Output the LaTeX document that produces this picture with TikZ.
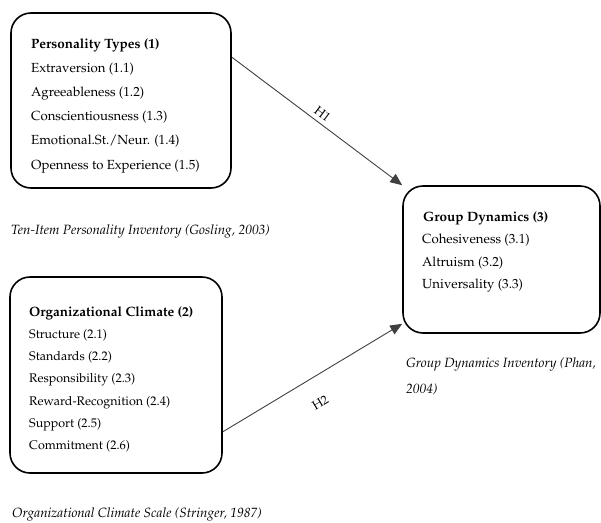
\documentclass[tikz,border=0pt]{standalone}
\usepackage[T1]{fontenc}
\usepackage{mathpazo}
\usetikzlibrary{arrows.meta,calc}
\tikzset{
  box/.style={draw=black, line width=1.6pt, rounded corners=20pt, inner sep=0pt},
  item/.style={anchor=base west, inner sep=0pt, font=\fontsize{13.2}{15}\selectfont},
  itemsm/.style={anchor=base west, inner sep=0pt, font=\fontsize{12.5}{15}\selectfont},
  itemb/.style={anchor=base west, inner sep=0pt, font=\fontsize{13.5}{15}\selectfont\bfseries},
  captext/.style={anchor=base west, inner sep=0pt, font=\fontsize{13.4}{15}\selectfont\itshape},
  arr/.style={draw=black!75, line width=0.9pt, -{Triangle[length=12pt,width=10pt]}},
  hlab/.style={font=\fontsize{12.5}{14}\selectfont, sloped, inner sep=1.5pt}
}
\begin{document}
\begin{tikzpicture}[x=1pt,y=-1pt]
\useasboundingbox (0,0) rectangle (601,522);
% boxes
\node[box, minimum width=220pt, minimum height=175pt] (box1) at (121,100.5) {};
\node[box, minimum width=212pt, minimum height=196pt] (box2) at (116,375) {};
\node[box, minimum width=197pt, minimum height=147pt] (box3) at (501.5,259.5) {};
% box 1 text
\node[itemb] (t1) at (31,48) {Personality Types (1)};
\foreach \t [count=\i] in {Extraversion (1.1), Agreeableness (1.2), Conscientiousness (1.3), Emotional.St./Neur. (1.4), Openness to Experience (1.5)}
  \node[item] (t1l\i) at (31,{48+24.2*\i}) {\t};
% box 2 text
\node[itemb] (t2) at (29,316) {Organizational Climate (2)};
\foreach \t [count=\i] in {Structure (2.1), Standards (2.2), Responsibility (2.3), Reward-Recognition (2.4), Support (2.5), Commitment (2.6)}
  \node[itemsm] (t2l\i) at (29,{316+22.3*\i}) {\t};
% box 3 text
\node[itemb] (t3) at (423,221.5) {Group Dynamics (3)};
\foreach \t [count=\i] in {Cohesiveness (3.1), Altruism (3.2), Universality (3.3)}
  \node[item] (t3l\i) at (422,{221.5+22.3*\i}) {\t};
% captions
\node[captext] (c1) at (11,234) {Ten-Item Personality Inventory (Gosling, 2003)};
\node[captext] (c2) at (12,517) {Organizational Climate Scale (Stringer, 1987)};
\node[captext] (c3a) at (406,367) {Group Dynamics Inventory (Phan,};
\node[captext] (c3b) at (406,393) {2004)};
% connectors
\coordinate (s1) at ($(box1.north east)+(0,45)$);
\coordinate (s2) at ($(box2.south east)+(0,-42)$);
\coordinate (e2) at ($(box3.south west)+(0,-10)$);
\draw[arr] (s1) -- (box3.north west) node[hlab, pos=0.5, above=3pt] (h1) {H1};
\draw[arr] (s2) -- (e2) node[hlab, pos=0.47, below=19pt] (h2) {H2};
\end{tikzpicture}
\end{document}
